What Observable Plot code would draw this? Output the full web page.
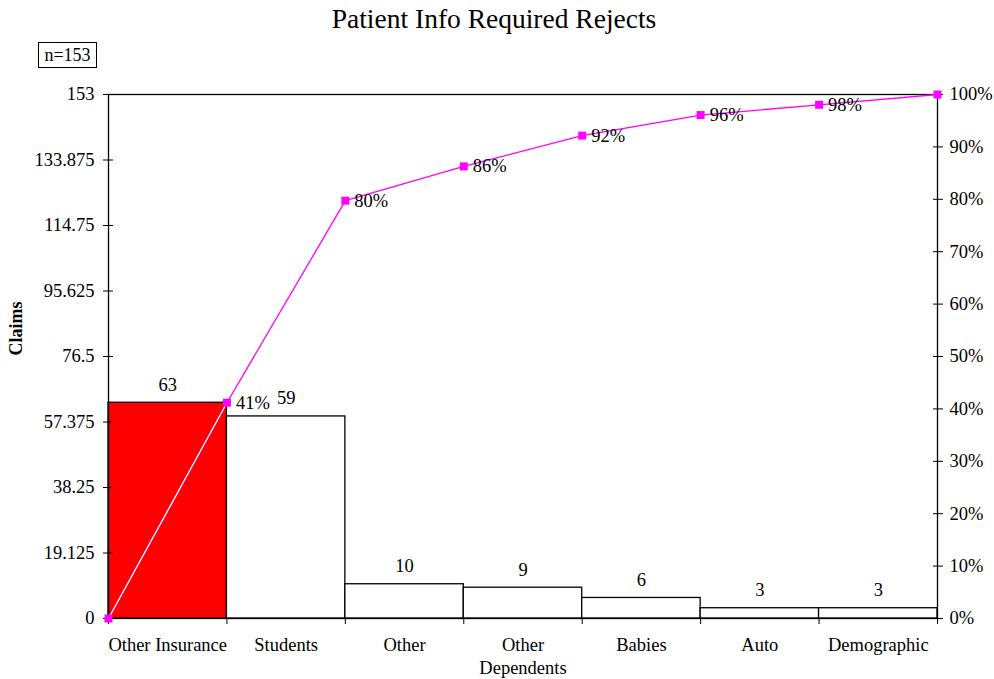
<!DOCTYPE html>
<html>
<head>
<meta charset="utf-8">
<script src="https://cdn.jsdelivr.net/npm/d3@7"></script>
<script src="https://cdn.jsdelivr.net/npm/@observablehq/plot@0.6"></script>
<style>
  html, body { margin: 0; padding: 0; background: white; }
  #wrap { position: relative; width: 994px; height: 679px; font-family: "Liberation Serif", "Times New Roman", serif; }
  #title { position: absolute; left: 0; top: 0; width: 988px; text-align: center; font-size: 27.5px; line-height: 38px; color: #000; }
  #nbox { position: absolute; left: 38px; top: 42px; width: 57px; height: 24px; border: 1px solid #000; font-size: 18px; line-height: 24px; text-align: center; color: #000; background: white; }
  #chart { position: absolute; left: 0; top: 0; }
</style>
</head>
<body>
<div id="wrap">
  <div id="chart"></div>
  <div id="title">Patient Info Required Rejects</div>
  <div id="nbox">n=153</div>
</div>
<script>
const categories = ["Other Insurance", "Students", "Other", "Other Dependents", "Babies", "Auto", "Demographic"];
const tickLabels = ["Other Insurance", "Students", "Other", "Other\nDependents", "Babies", "Auto", "Demographic"];
const values = [63, 59, 10, 9, 6, 3, 3];
const barColors = ["#ff0000", "#ffffff", "#ffffff", "#ffffff", "#ffffff", "#ffffff", "#ffffff"];
const leftTicks = [0, 19.125, 38.25, 57.375, 76.5, 95.625, 114.75, 133.875, 153];
const pctTicks = [0, 10, 20, 30, 40, 50, 60, 70, 80, 90, 100];
const total = 153;

const rows = categories.map((c, i) => ({c, i, v: values[i], fill: barColors[i]}));
const cum = [0, ...d3.cumsum(values)];
const pts = cum.map((y, i) => ({x: i, y, pct: Math.round(y / total * 100)}));
const pctY = pctTicks.map(p => p * total / 100);

const chart = Plot.plot({
  width: 994,
  height: 679,
  marginLeft: 108,
  marginRight: 57,
  marginTop: 94,
  marginBottom: 61,
  style: {fontFamily: "Liberation Serif, Times New Roman, serif", fontSize: "18.5px", background: "white", color: "black"},
  x: {domain: [0, 7], axis: null},
  y: {domain: [0, total], axis: null},
  marks: [
    Plot.rect(rows, {x1: d => d.i, x2: d => d.i + 1, y1: 0, y2: "v", fill: "fill", stroke: "black", strokeWidth: 1.3}),
    Plot.frame({stroke: "black", strokeWidth: 1.3}),
    Plot.axisY(leftTicks, {anchor: "left", tickSize: 10, dx: 5, tickFormat: () => "", label: null}),
    Plot.axisY(leftTicks, {anchor: "left", tickSize: 0, tickPadding: 14, tickFormat: d => String(d), label: null, fill: "black"}),
    Plot.axisY(pctY, {anchor: "right", tickSize: 10, dx: -5, tickFormat: () => "", label: null}),
    Plot.axisY(pctY, {anchor: "right", tickSize: 0, tickPadding: 12, tickFormat: d => Math.round(d / total * 100) + "%", label: null, fill: "black"}),
    Plot.axisX(d3.range(0, categories.length + 1), {anchor: "bottom", tickSize: 6, tickFormat: () => "", label: null}),
    Plot.text(rows, {x: d => d.i + 0.5, y: "v", text: d => String(d.v), dy: -18, fill: "black"}),
    Plot.text(rows, {x: d => d.i + 0.5, y: 0, text: d => tickLabels[d.i], lineAnchor: "top", dy: 16, lineHeight: 1.25, fill: "black"}),
    Plot.text(["Claims"], {frameAnchor: "left", text: d => d, rotate: -90, dx: -92, dy: -1, fontWeight: "bold", fontSize: 18, fill: "black"}),
    Plot.line(pts, {x: "x", y: "y", stroke: "#ff00ff", strokeWidth: 1.3}),
    Plot.line(pts.slice(0, 2), {x: "x", y: "y", stroke: "#ffffff", strokeWidth: 1.3}),
    Plot.dot(pts, {x: "x", y: "y", symbol: "square", r: 4.5, fill: "#ff00ff", stroke: "none"}),
    Plot.text(pts.slice(1, -1), {x: "x", y: "y", text: d => d.pct + "%", textAnchor: "start", dx: 9, dy: 0, fill: "black"})
  ]
});
document.getElementById("chart").appendChild(chart);
</script>
</body>
</html>
